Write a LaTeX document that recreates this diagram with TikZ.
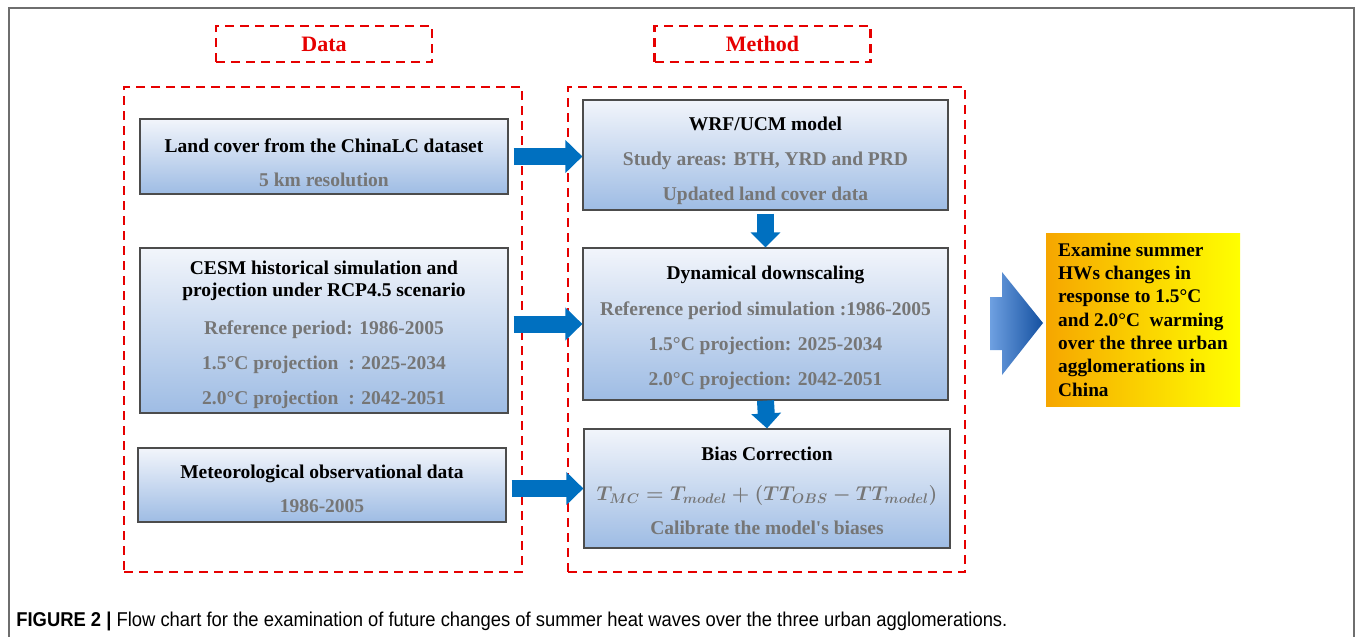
\documentclass[tikz,border=0pt]{standalone}
\usepackage{graphicx}
\usepackage{fontspec}
\setmainfont{Liberation Serif}
\newfontfamily\capfont[FakeStretch=0.92]{Liberation Sans}
\usetikzlibrary{arrows.meta,calc}

\definecolor{dashred}{RGB}{230,0,0}
\definecolor{flowblue}{RGB}{0,112,192}
\definecolor{subgray}{RGB}{118,118,118}
\definecolor{boxtop}{RGB}{242,245,251}
\definecolor{boxbot}{RGB}{158,188,228}
\definecolor{goalorange}{RGB}{246,166,0}
\definecolor{goalyellow}{RGB}{255,255,0}
\definecolor{bigleft}{RGB}{110,160,225}
\definecolor{bigright}{RGB}{20,80,160}
\definecolor{framegray}{RGB}{110,110,110}

\tikzset{
	redbox/.style={draw=dashred, line width=2.5pt, dash pattern=on 9pt off 6pt},
	headbox/.style={redbox, minimum width=216pt, minimum height=36pt, text=dashred, font=\fontsize{22}{25}\selectfont\bfseries},
	flowbox/.style={draw=black!70, line width=1.2pt, top color=boxtop, bottom color=boxbot, align=center, inner sep=0pt, font=\fontsize{19.5}{22}\selectfont\bfseries},
	goalbox/.style={left color=goalorange, right color=goalyellow, align=left, inner sep=0pt, minimum width=194pt, minimum height=173pt, font=\fontsize{19.3}{23.3}\selectfont\bfseries},
	flowarrow/.style={flowblue, line width=17pt, -{Triangle[length=17pt,width=32pt]}},
	vflowarrow/.style={flowblue, line width=17pt, -{Triangle[length=15pt,width=29pt]}}}
\tikzset{every picture/.style={line width=0.75pt}}
\newcommand{\sub}[1]{\textcolor{subgray}{#1}}
\newcommand{\lift}[1]{\rule{0pt}{#1}}

\begin{document}
\begin{tikzpicture}[x=1pt,y=1pt,yscale=-1,xscale=1]
	\useasboundingbox (0,0) rectangle (1355,637);

	%Shape: Frame
	\draw[framegray, line width=2pt] (9,637) -- (9,8) -- (1354,8) -- (1354,637);

	% Text Node
	\node[headbox] (datahead) at (324,44) {Data};
	% Text Node
	\node[headbox] (methodhead) at (762.5,44) {Method};

	%Shape: Dashed panels
	\node[redbox, minimum width=398pt, minimum height=485pt] (datapanel) at (323,329.5) {};
	\node[redbox, minimum width=397pt, minimum height=485pt] (methodpanel) at (766.5,329.5) {};

	% Data boxes
	\node[flowbox, minimum width=368pt, minimum height=75pt] (landcover) at (324,156.5) {\lift{26pt}Land cover from the ChinaLC dataset\\[12pt]\sub{5 km resolution}};
	\node[flowbox, minimum width=368pt, minimum height=165pt] (cesm) at (324,330.5) {\lift{22pt}CESM historical simulation and\\projection under RCP4.5 scenario\\[16pt]\sub{Reference period: 1986-2005}\\[13pt]\sub{1.5°C projection\ \ : 2025-2034}\\[13pt]\sub{2.0°C projection\ \ : 2042-2051}};
	\node[flowbox, minimum width=368pt, minimum height=74pt] (meteo) at (322,485) {\lift{22pt}Meteorological observational data\\[12pt]\sub{1986-2005}};

	% Method boxes
	\node[flowbox, minimum width=365pt, minimum height=110pt] (wrf) at (765.5,155) {\lift{26pt}WRF/UCM model\\[13pt]\sub{Study areas: BTH, YRD and PRD}\\[13pt]\sub{Updated land cover data}};
	\node[flowbox, minimum width=365pt, minimum height=152pt] (dyn) at (765.5,324) {\lift{22pt}Dynamical downscaling\\[14pt]\sub{Reference period simulation :1986-2005}\\[13pt]\sub{1.5°C projection: 2025-2034}\\[13pt]\sub{2.0°C projection: 2042-2051}};
	\node[flowbox, minimum width=366pt, minimum height=119pt] (bias) at (767,488.5) {\lift{18pt}Bias Correction\\[18pt]\sub{\scalebox{0.965}{\fontsize{21}{22}\selectfont\boldmath$T_{MC}=T_{model}+(TT_{OBS}-TT_{model})$}}\\[12pt]\sub{Calibrate the model\textquotesingle s biases}};

	% Goal box
	\node[goalbox] (goal) at (1143,319.5) {Examine summer\\HWs changes in\\response to 1.5°C\\and 2.0°C\ \ warming\\over the three urban\\agglomerations in\\China};

	% Arrows
	\draw[flowarrow, shorten <=5pt] (landcover.east) -- (landcover.east -| wrf.west);
	\draw[flowarrow, shorten <=5pt] (dyn.west -| cesm.east) -- (dyn.west);
	\draw[flowarrow, shorten <=5pt] (bias.west -| meteo.east) -- (bias.west);
	\draw[vflowarrow, shorten <=3pt] (wrf.south) -- (dyn.north);
	\draw[vflowarrow] (dyn.south) -- (bias.north);

	%Shape: Big arrow
	\shade[left color=bigleft, right color=bigright] (990,297) -- (1002,297) -- (1002,272) -- (1043,323) -- (1002,375) -- (1002,350) -- (990,350) -- cycle;

	% Text Node
	\node[anchor=west, inner sep=0pt, font=\capfont\fontsize{20}{22}\selectfont] (caption) at (16,621) {\textbf{FIGURE 2 |} Flow chart for the examination of future changes of summer heat waves over the three urban agglomerations.};

\end{tikzpicture}
\end{document}
